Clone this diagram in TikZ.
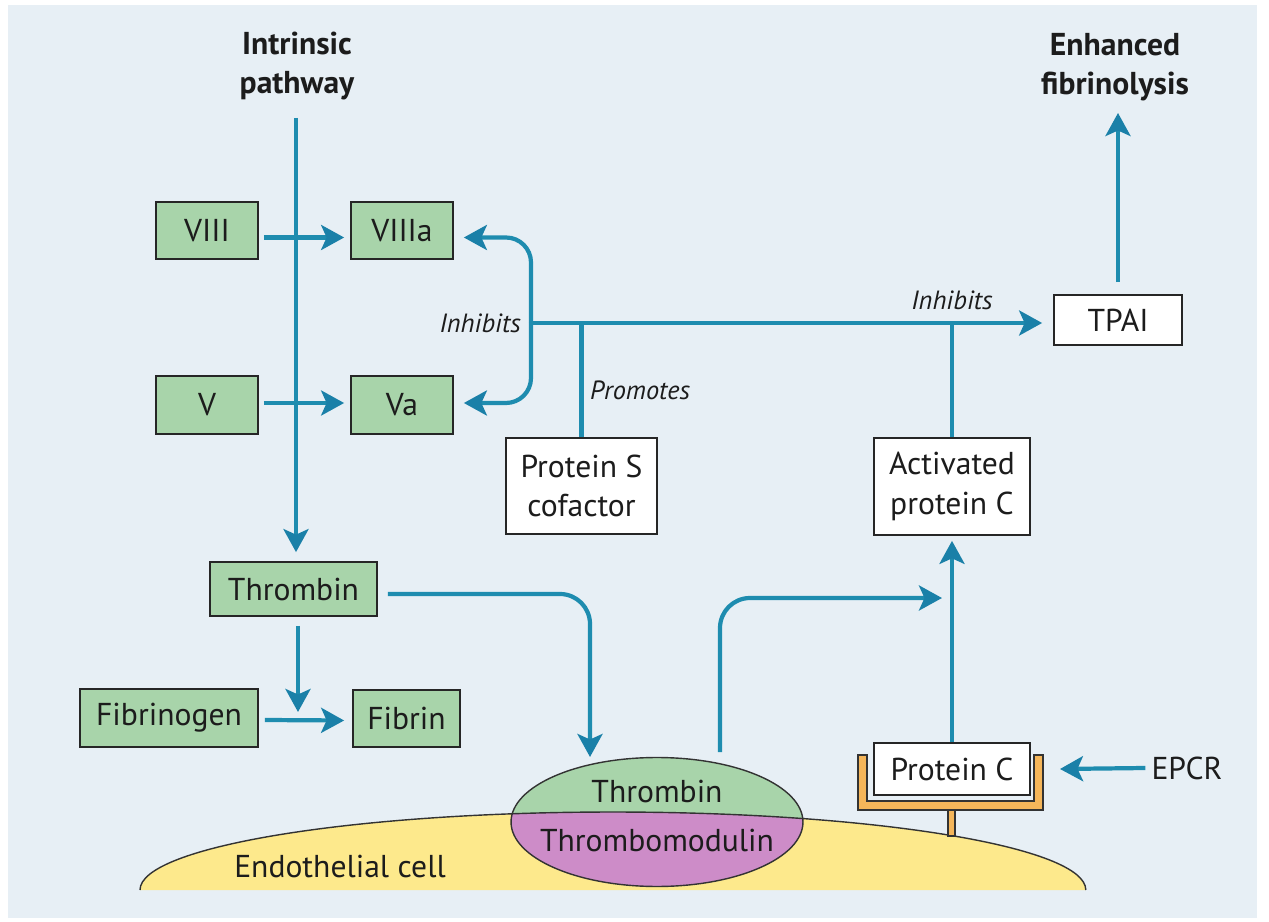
\documentclass[tikz,border=0pt]{standalone}
\usepackage{fontspec}
\setmainfont{PT Sans}
\usetikzlibrary{arrows.meta, shapes.geometric, calc}
\definecolor{bgblue}{HTML}{E7EFF5}
\definecolor{boxgreen}{HTML}{A8D4AA}
\definecolor{flowblue}{HTML}{1E8CAF}
\definecolor{tipblue}{HTML}{1A80A8}
\definecolor{cellyellow}{HTML}{FDE98C}
\definecolor{tmpurple}{HTML}{CD8CC8}
\definecolor{holder}{HTML}{F5B65A}
\definecolor{txt}{HTML}{1C1C1C}
\begin{document}
\begin{tikzpicture}[x=0.02cm, y=-0.02cm,
  box/.style={draw=black!85, line width=1pt, fill=boxgreen, inner sep=0pt,
              font=\fontsize{18}{22.5}\selectfont, text=txt},
  wbox/.style={box, fill=white, align=center},
  flow/.style={draw=flowblue, line width=2.4pt},
  arr/.style={flow, -{Stealth[length=0.46cm,width=0.5cm,inset=0.11cm,color=tipblue]}},
  lbl/.style={font=\fontsize{15}{18}\selectfont\itshape, text=txt},
  ttl/.style={font=\fontsize{18}{22.5}\selectfont\bfseries, align=center, text=txt},
  plain/.style={font=\fontsize{18}{22.5}\selectfont, text=txt},
  outline/.style={draw=black!80, line width=0.8pt}]

\useasboundingbox (0,0) rectangle (1269,922);
\fill[white] (0,0) rectangle (1269,922);
\fill[bgblue] (8,5) rectangle (1257,918);

% ---- endothelial cell and thrombin-thrombomodulin complex ----
\fill[cellyellow] (140,890) arc[start angle=180, end angle=0, x radius=9.46cm, y radius=1.56cm] -- cycle;
\fill[boxgreen] (657,822) ellipse [x radius=2.92cm, y radius=1.29cm];
\begin{scope}
  \clip (657,822) ellipse [x radius=2.92cm, y radius=1.29cm];
  \fill[tmpurple] (140,890) arc[start angle=180, end angle=0, x radius=9.46cm, y radius=1.56cm] -- cycle;
\end{scope}
\draw[outline] (140,890) arc[start angle=180, end angle=0, x radius=9.46cm, y radius=1.56cm];
\node[ellipse, outline, minimum width=5.84cm, minimum height=2.58cm, inner sep=0pt] (tm) at (657,822) {};
\node[plain] (tmthr) at (657,791) {Thrombin};
\node[plain] (tmmod) at (657,840) {Thrombomodulin};
\node[plain] (cell) at (340,866) {Endothelial cell};

% ---- EPCR holder ----
\filldraw[fill=holder, outline] (858,755) -- (858,810) -- (1043,810) -- (1043,755) -- (1034,755)
  -- (1034,801) -- (867,801) -- (867,755) -- cycle;
\filldraw[fill=holder, outline] (948,810) rectangle (955,836);

% ---- factor boxes ----
\node[box, minimum width=2.04cm, minimum height=1.14cm] (VIII) at (207,230.5) {VIII};
\node[box, minimum width=2.04cm, minimum height=1.14cm] (VIIIa) at (402,230.5) {VIIIa};
\node[box, minimum width=2.04cm, minimum height=1.16cm] (V) at (207,405) {V};
\node[box, minimum width=2.04cm, minimum height=1.16cm] (Va) at (402,405) {Va};
\node[box, minimum width=3.34cm, minimum height=1.08cm] (Thr) at (293.5,589) {Thrombin};
\node[box, minimum width=3.56cm, minimum height=1.16cm] (Fbg) at (169,718) {Fibrinogen};
\node[box, minimum width=2.14cm, minimum height=1.14cm] (Fib) at (406.5,718.5) {Fibrin};
\node[wbox, minimum width=3.02cm, minimum height=1.92cm] (PS) at (581.5,486) {Protein S\\cofactor};
\node[wbox, minimum width=3.12cm, minimum height=1.94cm] (APC) at (952,486.5) {Activated\\protein C};
\node[wbox, minimum width=2.56cm, minimum height=1.0cm] (TPAI) at (1118,320) {TPAI};
\node[wbox, minimum width=3.12cm, minimum height=1.04cm] (PC) at (952,769) {Protein C};

% ---- free text ----
\node[ttl] (intr) at (297,66) {Intrinsic\\pathway};
\node[ttl] (enh) at (1115,67) {Enhanced\\fibrinolysis};
\node[plain] (EPCR) at (1187,768) {EPCR};

% ---- coordinates for connector ends ----
\coordinate (itop) at (296,118);
\coordinate (fx) at (298,720);
\coordinate (tmin) at (590,757);
\coordinate (tmout) at (720,752);
\coordinate (apcin) at (942,598);
\coordinate (epin) at (1060,769);
\coordinate (jn) at (531,323);
\coordinate (efib) at (1116,113);

% ---- coagulation side ----
\draw[arr, shorten >=0.18cm] (itop) -- (itop |- Thr.north);
\draw[arr] ([xshift=0.1cm,yshift=-0.14cm]VIII.east) -- ([xshift=-0.12cm,yshift=-0.14cm]VIIIa.west);
\draw[arr] ([xshift=0.1cm,yshift=0.04cm]V.east) -- ([xshift=-0.12cm,yshift=0.04cm]Va.west);
\draw[arr, shorten <=0.18cm, shorten >=0.16cm] (fx |- Thr.south) -- (fx);
\draw[arr] ([xshift=0.12cm,yshift=-0.04cm]Fbg.east) -- ([xshift=-0.16cm,yshift=-0.04cm]Fib.west);
\draw[arr, rounded corners=0.6cm] ([xshift=0.2cm,yshift=-0.1cm]Thr.east) -| (tmin);

% ---- protein C pathway ----
\draw[arr, rounded corners=0.6cm] (tmout) |- (apcin);
\draw[arr, shorten >=0.1cm] (PC.north) -- (APC.south);
\draw[arr] (EPCR.west) -- (epin);
\draw[flow] (APC.north) -- (APC.north |- jn);
\draw[flow] (PS.north) -- (PS.north |- jn);
\draw[arr, shorten >=0.22cm] (jn) -- (TPAI.west |- jn);
\draw[arr, rounded corners=0.5cm, shorten >=0.2cm] (jn) |- ([yshift=-0.14cm]VIIIa.east);
\draw[arr, rounded corners=0.5cm, shorten >=0.2cm] (jn) |- ([yshift=0.04cm]Va.east);
\draw[arr] ([yshift=0.24cm]TPAI.north) -- (TPAI.north |- efib);

% ---- edge labels ----
\node[lbl, anchor=east] (inh1) at (527,323) {Inhibits};
\node[lbl] (inh2) at (952,300) {Inhibits};
\node[lbl, anchor=west] (prom) at (584,390) {Promotes};

\end{tikzpicture}
\end{document}
